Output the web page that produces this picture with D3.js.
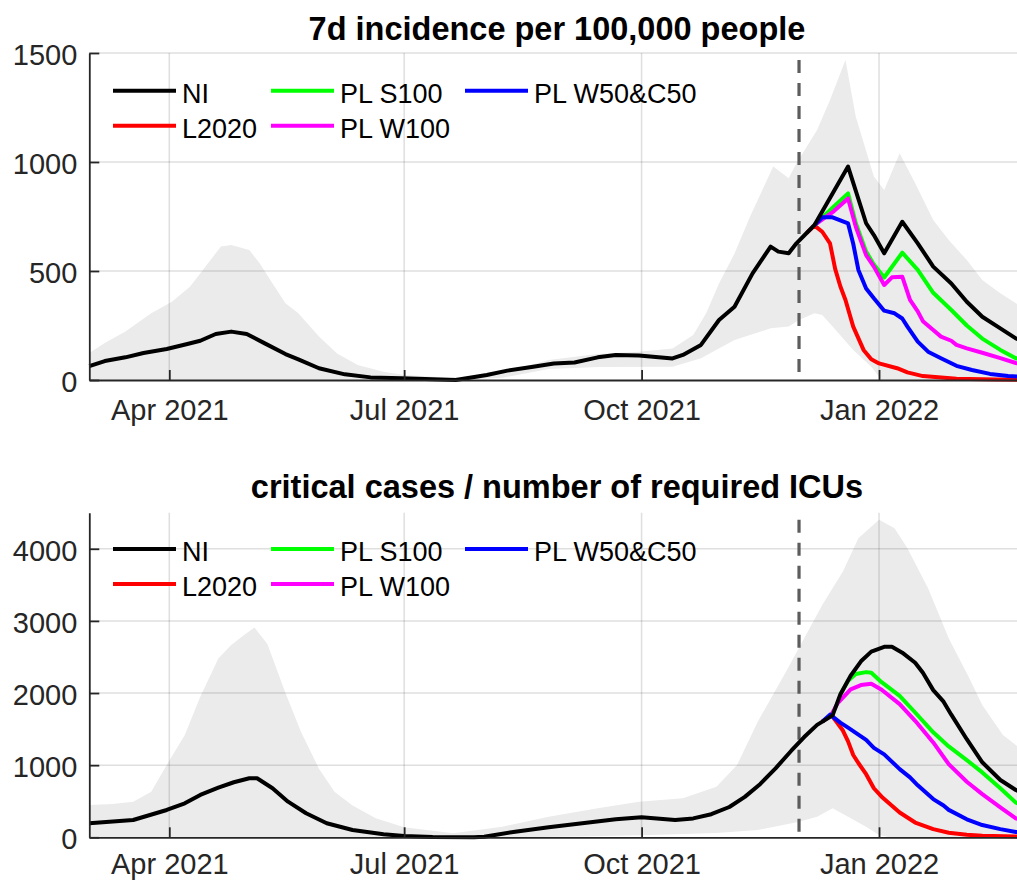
<!DOCTYPE html>
<html>
<head>
<meta charset="utf-8">
<script src="https://cdn.jsdelivr.net/npm/d3@7"></script>
<style>
  body { margin: 0; background: #fff; }
  svg { display: block; font-family: "Liberation Sans", Arial, sans-serif; }
</style>
</head>
<body>
<div id="vis-holder"></div>
<script>
// ---- data ----
const forecastStart = "2021-12-01";
const quarterTicks = ["2021-04-01", "2021-07-01", "2021-10-01", "2022-01-01"];
const seriesNames = ["NI", "L2020", "PL S100", "PL W100", "PL W50&C50"];

// 7d incidence per 100,000
const incNI = [["2021-03-01",64],["2021-03-07",87],["2021-03-15",104],["2021-03-22",124],["2021-03-31",142],["2021-04-08",165],["2021-04-13",180],["2021-04-19",211],["2021-04-25",222],["2021-05-01",211],["2021-05-08",168],["2021-05-16",119],["2021-05-21",95],["2021-05-29",54],["2021-06-08",26],["2021-06-18",12],["2021-06-30",8],["2021-07-12",3],["2021-07-21",0],["2021-08-02",23],["2021-08-10",43],["2021-08-20",61],["2021-08-28",76],["2021-09-05",80],["2021-09-14",104],["2021-09-21",115],["2021-09-30",112],["2021-10-13",99],["2021-10-17",115],["2021-10-24",161],["2021-10-31",275],["2021-11-06",336],["2021-11-13",489],["2021-11-20",612],["2021-11-23",589],["2021-11-27",581],["2021-11-30",627],["2021-12-07",711],["2021-12-20",979],["2021-12-27",719],["2021-12-30",665],["2022-01-03",581],["2022-01-10",726],["2022-01-16",627],["2022-01-22",520],["2022-01-29",443],["2022-02-04",359],["2022-02-10",290],["2022-02-17",237],["2022-02-23",191],["2022-03-01",165]];
const incL2020 = [["2021-12-04",675],["2021-12-07",708],["2021-12-10",680],["2021-12-13",627],["2021-12-15",510],["2021-12-17",430],["2021-12-19",367],["2021-12-22",245],["2021-12-26",138],["2021-12-29",95],["2022-01-01",76],["2022-01-08",54],["2022-01-12",35],["2022-01-18",18],["2022-01-31",6],["2022-02-15",2],["2022-03-01",0]];
const incS100 = [["2021-12-07",711],["2021-12-14",790],["2021-12-20",856],["2021-12-23",719],["2021-12-27",589],["2021-12-30",530],["2022-01-03",470],["2022-01-10",584],["2022-01-16",505],["2022-01-22",400],["2022-01-29",321],["2022-02-04",250],["2022-02-10",190],["2022-02-17",138],["2022-02-23",100],["2022-03-01",82]];
const incW100 = [["2021-12-07",711],["2021-12-14",770],["2021-12-20",833],["2021-12-23",703],["2021-12-27",573],["2021-12-30",520],["2022-01-03",436],["2022-01-06",471],["2022-01-10",474],["2022-01-13",367],["2022-01-16",315],["2022-01-18",270],["2022-01-22",229],["2022-01-25",199],["2022-01-29",180],["2022-01-31",161],["2022-02-04",145],["2022-02-10",125],["2022-02-17",100],["2022-02-23",78],["2022-03-01",66]];
const incW50C50 = [["2021-12-07",711],["2021-12-10",746],["2021-12-14",746],["2021-12-20",718],["2021-12-22",625],["2021-12-24",505],["2021-12-27",420],["2021-12-30",375],["2022-01-03",318],["2022-01-07",306],["2022-01-10",282],["2022-01-12",245],["2022-01-16",176],["2022-01-20",130],["2022-01-25",100],["2022-01-31",65],["2022-02-06",46],["2022-02-13",28],["2022-02-20",18],["2022-03-01",12]];
const incBandHi = [["2021-03-01",124],["2021-03-07",170],["2021-03-15",222],["2021-03-25",306],["2021-04-02",359],["2021-04-09",428],["2021-04-14",505],["2021-04-21",612],["2021-04-25",619],["2021-05-02",596],["2021-05-06",535],["2021-05-11",443],["2021-05-16",352],["2021-05-21",306],["2021-05-29",199],["2021-06-05",122],["2021-06-13",69],["2021-06-23",38],["2021-07-01",23],["2021-07-19",10],["2021-08-07",31],["2021-08-26",92],["2021-09-14",119],["2021-09-30",130],["2021-10-13",145],["2021-10-21",206],["2021-10-26",306],["2021-10-31",443],["2021-11-06",580],["2021-11-12",749],["2021-11-21",979],["2021-11-27",925],["2021-11-30",994],["2021-12-08",1147],["2021-12-13",1284],["2021-12-19",1468],["2021-12-23",1208],["2021-12-30",933],["2022-01-03",872],["2022-01-09",1040],["2022-01-15",902],["2022-01-22",734],["2022-01-28",642],["2022-02-04",550],["2022-02-10",459],["2022-02-17",398],["2022-02-24",344],["2022-03-01",310]];
const incBandLo = [["2021-03-01",0],["2021-07-20",0],["2021-08-08",10],["2021-08-26",50],["2021-09-14",60],["2021-10-13",61],["2021-10-24",100],["2021-11-06",183],["2021-11-20",237],["2021-11-27",245],["2021-12-01",275],["2021-12-07",306],["2021-12-10",298],["2021-12-14",245],["2021-12-22",138],["2021-12-29",61],["2022-01-02",0],["2022-03-01",0]];

// critical cases / required ICUs
const icuNI = [["2021-03-01",194],["2021-03-18",240],["2021-03-31",379],["2021-04-07",471],["2021-04-13",587],["2021-04-20",688],["2021-04-26",763],["2021-05-02",818],["2021-05-05",818],["2021-05-11",680],["2021-05-17",494],["2021-05-24",333],["2021-06-01",194],["2021-06-11",101],["2021-06-23",42],["2021-07-01",18],["2021-07-12",3],["2021-07-28",0],["2021-08-01",8],["2021-08-13",78],["2021-08-26",139],["2021-09-08",194],["2021-09-21",250],["2021-10-01",277],["2021-10-14",240],["2021-10-21",262],["2021-10-28",320],["2021-11-04",420],["2021-11-10",560],["2021-11-16",740],["2021-11-22",960],["2021-11-28",1200],["2021-12-03",1390],["2021-12-08",1558],["2021-12-14",1690],["2021-12-17",1980],["2021-12-21",2240],["2021-12-25",2440],["2021-12-29",2574],["2022-01-03",2640],["2022-01-06",2640],["2022-01-10",2560],["2022-01-15",2420],["2022-01-18",2280],["2022-01-22",2040],["2022-01-26",1880],["2022-01-29",1700],["2022-02-04",1360],["2022-02-10",1040],["2022-02-17",795],["2022-02-23",656],["2022-03-01",560]];
const icuL2020 = [["2021-12-10",1602],["2021-12-13",1680],["2021-12-14",1675],["2021-12-18",1480],["2021-12-20",1330],["2021-12-22",1141],["2021-12-24",1030],["2021-12-27",875],["2021-12-30",680],["2022-01-02",563],["2022-01-09",344],["2022-01-15",205],["2022-01-22",113],["2022-01-28",64],["2022-02-04",35],["2022-02-10",22],["2022-02-23",10],["2022-03-01",8]];
const icuS100 = [["2021-12-17",1980],["2021-12-20",2170],["2021-12-23",2265],["2021-12-27",2290],["2021-12-29",2280],["2022-01-02",2150],["2022-01-09",1960],["2022-01-15",1730],["2022-01-22",1455],["2022-01-28",1260],["2022-02-04",1070],["2022-02-10",900],["2022-02-17",680],["2022-02-23",482],["2022-03-01",380]];
const icuW100 = [["2021-12-13",1668],["2021-12-16",1860],["2021-12-21",2050],["2021-12-25",2110],["2021-12-29",2130],["2022-01-02",2045],["2022-01-09",1847],["2022-01-15",1615],["2022-01-22",1315],["2022-01-28",1014],["2022-02-04",770],["2022-02-10",598],["2022-02-17",414],["2022-02-23",263],["2022-03-01",190]];
const icuW50C50 = [["2021-12-10",1602],["2021-12-13",1700],["2021-12-17",1590],["2021-12-20",1520],["2021-12-27",1350],["2021-12-30",1240],["2022-01-03",1150],["2022-01-09",945],["2022-01-13",830],["2022-01-16",720],["2022-01-22",530],["2022-01-26",440],["2022-01-28",380],["2022-02-04",250],["2022-02-10",170],["2022-02-17",113],["2022-02-23",74],["2022-03-01",55]];
const icuBandHi = [["2021-03-01",448],["2021-03-10",460],["2021-03-18",494],["2021-03-25",633],["2021-03-31",1003],["2021-04-07",1419],["2021-04-13",1950],["2021-04-20",2480],["2021-04-25",2667],["2021-04-30",2806],["2021-05-04",2910],["2021-05-09",2680],["2021-05-16",2000],["2021-05-22",1465],["2021-05-29",950],["2021-06-04",633],["2021-06-11",440],["2021-06-20",263],["2021-07-01",140],["2021-07-20",55],["2021-08-08",147],["2021-08-26",286],["2021-09-14",402],["2021-09-30",494],["2021-10-17",541],["2021-10-30",700],["2021-11-07",1003],["2021-11-15",1603],["2021-11-26",2297],["2021-12-03",2760],["2021-12-10",3222],["2021-12-18",3684],["2021-12-24",4147],["2022-01-01",4401],["2022-01-07",4286],["2022-01-12",4008],["2022-01-20",3454],["2022-01-28",2760],["2022-02-05",2205],["2022-02-10",1835],["2022-02-18",1419],["2022-02-23",1280],["2022-03-01",1100]];
const icuBandLo = [["2021-03-01",0],["2021-08-15",0],["2021-09-10",15],["2021-10-01",30],["2021-10-30",60],["2021-11-15",101],["2021-12-01",216],["2021-12-08",286],["2021-12-14",402],["2021-12-20",286],["2021-12-27",147],["2022-01-01",32],["2022-01-05",0],["2022-03-01",0]];

// ---- layout ----
const width = 1017, height = 881;
const colors = ["#000000", "#ff0000", "#00ff00", "#ff00ff", "#0000ff"];
const axisColor = "#262626";
const parse = d3.utcParse("%Y-%m-%d");

const svg = d3.select("#vis-holder")
  .append("svg")
  .attr("width", width)
  .attr("height", height);

// shared time scale (Mar 2021 .. Mar 2022, right part cut by the figure edge)
const x = d3.scaleUtc()
  .domain([parse("2021-03-01"), parse("2022-03-01")])
  .range([89.3, 1031.3]);

const panels = [
  { title: "7d incidence per 100,000 people", titleY: 40, top: 53, bottom: 380, max: 1500,
    ticks: [0, 500, 1000, 1500], legendY: 90.7, lo: incBandLo, hi: incBandHi, xPad: 19,
    lines: [incNI, incL2020, incS100, incW100, incW50C50] },
  { title: "critical cases / number of required ICUs", titleY: 498, top: 512.7, bottom: 837.3, max: 4500,
    ticks: [0, 1000, 2000, 3000, 4000], legendY: 549, lo: icuBandLo, hi: icuBandHi, xPad: 16,
    lines: [icuNI, icuL2020, icuS100, icuW100, icuW50C50] }
];

panels.forEach((p) => {
  const y = d3.scaleLinear().domain([0, p.max]).range([p.bottom, p.top]);
  const g = svg.append("g");

  const line = d3.line()
    .x((d) => x(parse(d[0])))
    .y((d) => y(d[1]));

  // uncertainty band: upper edge forward, lower edge back
  g.append("path")
    .attr("d", line(p.hi.concat(p.lo.slice().reverse())) + "Z")
    .attr("fill", "#ebebeb")
    .attr("stroke", "none");

  // grid
  g.selectAll(".hgrid")
    .data(p.ticks.filter((t) => t > 0))
    .enter().append("line")
      .attr("x1", x.range()[0]).attr("x2", x.range()[1])
      .attr("y1", (d) => y(d)).attr("y2", (d) => y(d))
      .attr("stroke", axisColor).attr("stroke-opacity", 0.15).attr("stroke-width", 1.5);
  g.selectAll(".vgrid")
    .data(quarterTicks)
    .enter().append("line")
      .attr("x1", (d) => x(parse(d))).attr("x2", (d) => x(parse(d)))
      .attr("y1", p.top).attr("y2", p.bottom)
      .attr("stroke", axisColor).attr("stroke-opacity", 0.15).attr("stroke-width", 1.5);

  // start of the scenario period
  g.append("line")
    .attr("x1", x(parse(forecastStart))).attr("x2", x(parse(forecastStart)))
    .attr("y1", p.top).attr("y2", p.bottom)
    .attr("stroke", "#5c5c5c")
    .attr("stroke-width", 3.2)
    .attr("stroke-dasharray", "13,10")
    .attr("stroke-dashoffset", 16);

  // scenario lines first, NI on top
  [1, 2, 3, 4, 0].forEach((i) => {
    g.append("path")
      .datum(p.lines[i])
      .attr("d", line)
      .attr("fill", "none")
      .attr("stroke", colors[i])
      .attr("stroke-width", 4)
      .attr("stroke-linejoin", "round");
  });

  // axes
  const yAxis = g.append("g")
    .attr("transform", `translate(${x.range()[0]},0)`)
    .call(d3.axisLeft(y).tickValues(p.ticks).tickFormat(d3.format("d"))
      .tickSizeInner(-10).tickSizeOuter(0).tickPadding(12));
  const xAxis = g.append("g")
    .attr("transform", `translate(0,${p.bottom})`)
    .call(d3.axisBottom(x)
      .tickValues(quarterTicks.map(parse))
      .tickFormat(d3.utcFormat("%b %Y"))
      .tickSizeInner(-10).tickSizeOuter(0).tickPadding(p.xPad));
  [yAxis, xAxis].forEach((a) => {
    a.select(".domain").attr("stroke", axisColor).attr("stroke-width", 1.8);
    a.selectAll(".tick line").attr("stroke", axisColor).attr("stroke-width", 1.8);
    a.selectAll(".tick text").attr("fill", axisColor).attr("font-size", "29px")
      .attr("font-family", "'Liberation Sans', Arial, sans-serif");
  });
  yAxis.selectAll(".tick text").attr("dy", "0.40em");

  // title
  svg.append("text")
    .attr("x", 557).attr("y", p.titleY)
    .attr("text-anchor", "middle")
    .attr("font-size", "32.5px")
    .attr("font-weight", "bold")
    .attr("fill", "#000")
    .text(p.title);

  // legend, 3 columns filled top-down
  const colX = [113, 271, 465];
  seriesNames.forEach((name, i) => {
    const cx = colX[Math.floor(i / 2)];
    const cy = p.legendY + (i % 2) * 35;
    svg.append("line")
      .attr("x1", cx).attr("x2", cx + 63)
      .attr("y1", cy).attr("y2", cy)
      .attr("stroke", colors[i]).attr("stroke-width", 4);
    svg.append("text")
      .attr("x", cx + 69).attr("y", cy + 12)
      .attr("font-size", "27px")
      .attr("fill", "#000")
      .text(name);
  });
});
</script>
</body>
</html>
